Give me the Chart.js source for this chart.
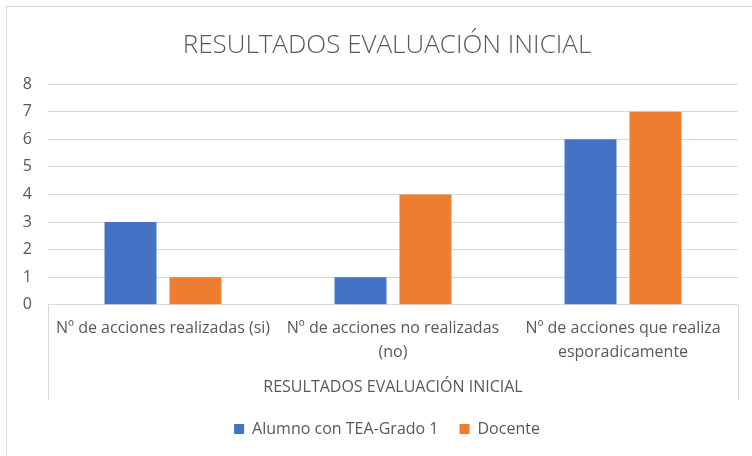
<!DOCTYPE html>
<html><head><meta charset="utf-8">
<script src="https://cdn.jsdelivr.net/npm/chart.js@4/dist/chart.umd.min.js"></script>
<style>
html,body{margin:0;padding:0;background:#fff;overflow:hidden;width:752px;height:456px}
#wrap{position:absolute;left:6px;top:6px;width:770px;height:470px;border-left:1px solid #d9d9d9;border-top:1px solid #d9d9d9}
#c{position:absolute;left:0;top:0}
</style></head><body>
<div id="wrap"><canvas id="c" width="758" height="460"></canvas></div>
<script>
const categories = [
  "Nº de acciones realizadas (si)",
  ["Nº de acciones no realizadas", "(no)"],
  ["Nº de acciones que realiza", "esporadicamente"]
];
const seriesNames = ["Alumno con TEA-Grado 1", "Docente"];
const alumno = [3, 1, 6];
const docente = [1, 4, 7];
const chartTitle = "RESULTADOS EVALUACIÓN INICIAL";
const xTitle = "RESULTADOS EVALUACIÓN INICIAL";

const FONT = "'Open Sans', 'Liberation Sans', sans-serif";
const GRAY = '#595959';
const GRID = '#d9d9d9';

const boxPlugin = {
  id: 'axisBox',
  afterDraw(chart) {
    const ctx = chart.ctx, a = chart.chartArea, xs = chart.scales.x;
    ctx.save();
    ctx.strokeStyle = GRID; ctx.lineWidth = 1;
    ctx.beginPath();
    ctx.moveTo(Math.round(a.left) + 0.5, a.bottom);
    ctx.lineTo(Math.round(a.left) + 0.5, xs.bottom);
    ctx.moveTo(Math.round(a.right) + 0.5, a.bottom);
    ctx.lineTo(Math.round(a.right) + 0.5, xs.bottom);
    ctx.stroke();
    ctx.restore();
  }
};

new Chart(document.getElementById('c'), {
  type: 'bar',
  data: {
    labels: categories,
    datasets: [
      {label: seriesNames[0], data: alumno, backgroundColor: '#4472C4', borderWidth: 0},
      {label: seriesNames[1], data: docente, backgroundColor: '#ED7D31', borderWidth: 0}
    ]
  },
  options: {
    responsive: false,
    animation: false,
    devicePixelRatio: 1,
    layout: {padding: {left: 15, right: 13, top: 0, bottom: 20}},
    datasets: {bar: {categoryPercentage: 0.565, barPercentage: 0.8}},
    plugins: {
      title: {display: true, text: chartTitle, color: GRAY,
        font: {family: FONT, size: 26, weight: '300', lineHeight: 1.2}, padding: {top: 23, bottom: 23}},
      legend: {position: 'bottom',
        labels: {color: GRAY, font: {family: FONT, size: 16}, boxWidth: 10, boxHeight: 10, padding: 21}},
      tooltip: {enabled: false}
    },
    scales: {
      y: {min: 0, max: 8,
        ticks: {stepSize: 1, color: GRAY, font: {family: FONT, size: 16}, padding: 16},
        grid: {color: GRID, drawTicks: false},
        border: {display: false},
        afterFit(scale) { scale.width = 26; }
      },
      yRight: {position: 'right', display: true, min: 0, max: 8,
        ticks: {display: false}, grid: {display: false}, border: {display: false},
        afterFit(scale) { scale.width = 14; }
      },
      x: {
        ticks: {color: GRAY, font: {family: FONT, size: 16, lineHeight: 1.5}, padding: 4, maxRotation: 0, autoSkip: false},
        grid: {display: false},
        border: {display: false},
        title: {display: true, text: xTitle, color: GRAY, font: {family: FONT, size: 16, lineHeight: 1.2}, padding: {top: 9, bottom: 3}}
      }
    }
  },
  plugins: [boxPlugin]
});
</script>
</body></html>
